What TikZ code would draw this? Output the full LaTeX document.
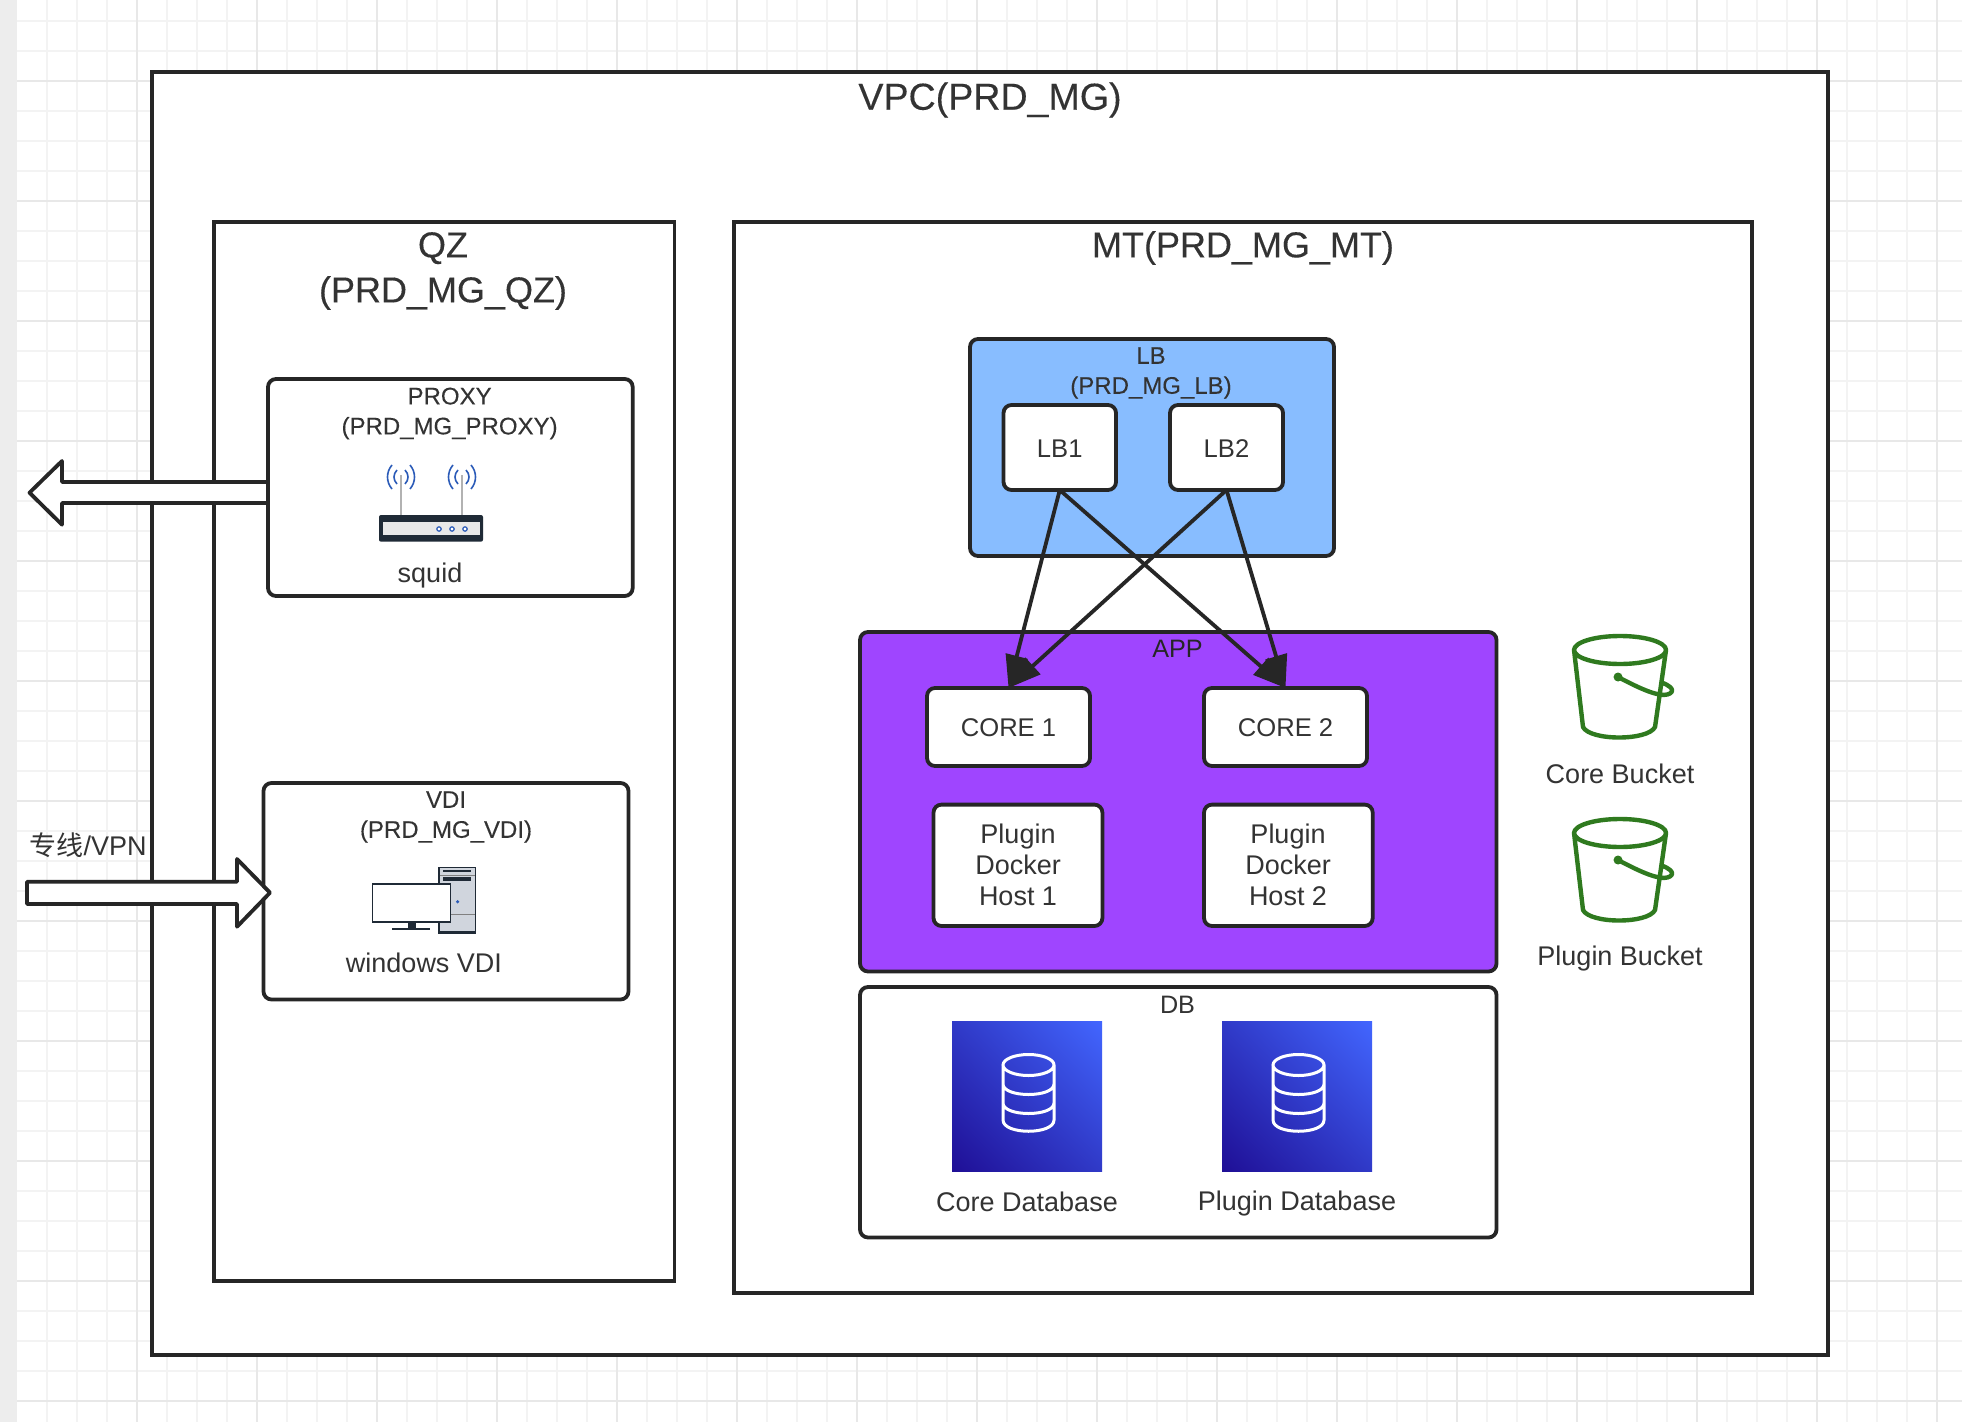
\documentclass[tikz,border=0pt]{standalone}
\usepackage{fontspec}
\setmainfont{Liberation Sans}
\newfontfamily\cjkfont{Noto Sans CJK SC}
\newfontfamily\bigface[FakeBold=0.25]{Liberation Sans}
\newfontfamily\smallface[FakeBold=0.12]{Liberation Sans}
\usetikzlibrary{arrows.meta,calc,shadings}
\definecolor{ink}{HTML}{262626}
\definecolor{txt}{HTML}{333333}
\definecolor{gridminor}{HTML}{F3F3F3}
\definecolor{gridmajor}{HTML}{E8E8E8}
\definecolor{lbblue}{HTML}{88BDFF}
\definecolor{apppurple}{HTML}{9F45FF}
\definecolor{bucketgreen}{HTML}{2F7A1F}
\definecolor{wavecol}{HTML}{2B5BB8}
\definecolor{steel}{HTML}{1F2A36}
\definecolor{tower}{HTML}{D0D5DD}
\definecolor{dblow}{HTML}{1F0F96}
\definecolor{dbhigh}{HTML}{4266FF}
\definecolor{dbmid}{HTML}{303AC8}
\tikzset{
  sq/.style={draw=ink,line width=1.9pt,fill=white,inner sep=0,outer sep=0,rectangle},
  rd/.style={sq,rounded corners=4pt},
  lbl/.style={text=txt,inner sep=0,align=center,font=\fontsize{13.5}{15.5}\selectfont},
  capl/.style={text=txt,inner sep=0,align=center,font=\fontsize{12.8}{15.5}\selectfont},
  small/.style={text=txt,inner sep=0,align=center,font=\smallface\fontsize{12}{15}\selectfont},
  big/.style={text=txt,inner sep=0,align=center,font=\bigface\fontsize{18}{22.5}\selectfont},
  link/.style={draw=ink,line width=1.9pt,-{Triangle[length=16.5pt,width=11pt]}},
  fat/.style={draw=ink,line width=1.9pt,fill=white,line join=round},
  pics/bucket/.style={code={
    \draw[bucketgreen,line width=2.2pt,line join=round,line cap=round]
      (0,0) ellipse [x radius=46,y radius=14]
      (-46,0) -- (-37,77) .. controls (-30,91) and (28,91) .. (35,77) -- (46,0)
      (-2,27) .. controls (15,36) and (28,42) .. (37,44) .. controls (48,47) and (56,42) .. (50,37) .. controls (48,35) and (45,34) .. (43,33);
    \fill[bucketgreen] (-2,27) circle [radius=4.5];
  }},
  pics/dbicon/.style={code={
    \shade[lower left=dblow,upper right=dbhigh,upper left=dbmid,lower right=dbmid]
      (0,0) rectangle (150,150);
    \draw[white,line width=1.5pt]
      (76.5,44) ellipse [x radius=25.5,y radius=10.5]
      (51,44) -- (51,99) .. controls (51,114) and (102,114) .. (102,99) -- (102,44)
      (51,63) .. controls (51,77) and (102,77) .. (102,63)
      (51,82) .. controls (51,96) and (102,96) .. (102,82);
  }},
}
\newcommand\bx[6]{\node[#1,minimum width={(#5-#3)*0.5pt},minimum height={(#6-#4)*0.5pt}] (#2) at ({(#3+#5)/2},{(#4+#6)/2}) {};}
\newcommand\wavepair[1]{%
  \draw[wavecol,line width=0.8pt] (#1-9,465) .. controls (#1-15,472) and (#1-15,482) .. (#1-9,489)
    (#1+9,465) .. controls (#1+15,472) and (#1+15,482) .. (#1+9,489)
    (#1-4,470) .. controls (#1-8,474) and (#1-8,480) .. (#1-4,484)
    (#1+4,470) .. controls (#1+8,474) and (#1+8,480) .. (#1+4,484);
  \draw[gray!60,line width=0.8pt] (#1,475) -- (#1,515);}
\begin{document}
\begin{tikzpicture}[x=0.5pt,y=-0.5pt]
\useasboundingbox (0,0) rectangle (1962,1422);
\clip (0,0) rectangle (1962,1422);
% canvas grid
\fill[white] (0,0) rectangle (1962,1422);
\foreach \gx in {47,77,107,167,197,227,287,317,347,407,437,467,527,557,587,647,677,707,767,797,827,887,917,947,1007,1037,1067,1127,1157,1187,1247,1277,1307,1367,1397,1427,1487,1517,1547,1607,1637,1667,1727,1757,1787,1847,1877,1907}
  \draw[gridminor,line width=1pt] (\gx,0) -- (\gx,1422);
\foreach \gy in {21,51,111,141,171,231,261,291,351,381,411,471,501,531,591,621,651,711,741,771,831,861,891,951,981,1011,1071,1101,1131,1191,1221,1251,1311,1341,1371}
  \draw[gridminor,line width=1pt] (0,\gy) -- (1962,\gy);
\foreach \gx in {137,257,377,497,617,737,857,977,1097,1217,1337,1457,1577,1697,1817,1937}
  \draw[gridmajor,line width=1pt] (\gx,0) -- (\gx,1422);
\foreach \gy in {81,201,321,441,561,681,801,921,1041,1161,1281,1401}
  \draw[gridmajor,line width=1pt] (0,\gy) -- (1962,\gy);
\fill[gray!14] (0,0) rectangle (17,1422);
% containers
\bx{sq}{vpc}{152}{72}{1828}{1355}
\bx{sq}{qz}{214}{222}{674.5}{1281}
\bx{sq}{mt}{734}{222}{1752}{1293}
\node[big,font=\bigface\fontsize{18.8}{22.5}\selectfont] (vpct) at (990,100) {VPC(PRD\_MG)};
\node[big] (qzt) at (443,271) {QZ\\(PRD\_MG\_QZ)};
\node[big] (mtt) at (1243,248) {MT(PRD\_MG\_MT)};
% left arrow under proxy box
\coordinate (outtip) at (29.5,492.7);
\bx{rd}{proxy}{268}{379}{632.7}{596}
\draw[fat] (outtip) -- (62,461) -- (62,482) -- (proxy.west |- 0,482) -- (proxy.west |- 0,503) -- (62,503) -- (62,524.7) -- cycle;
\draw[ink,line width=1.9pt] (proxy.west |- 0,470) -- (proxy.west |- 0,515);
\node[small] (proxyt) at (449.6,413.5) {PROXY\\(PRD\_MG\_PROXY)};
\wavepair{401}
\wavepair{462}
\fill[steel,rounded corners=1pt] (379,515) rectangle (483,541.7);
\fill[gray!18] (383,522) rectangle (480,535);
\foreach \dx in {439,452,465}
  \draw[wavecol,line width=0.6pt,fill=white] (\dx,529) circle [radius=2.2];
\node[lbl] (squid) at (430,575.5) {squid};
% VDI
\bx{rd}{vdi}{263.5}{783}{628.5}{999.5}
\node[small] (vdit) at (446,817) {VDI\\(PRD\_MG\_VDI)};
\coordinate (intail) at (27,881.7);
\draw[fat] (intail) -- (237,881.7) -- (237,859) -- (270,892.7) -- (237,926.7) -- (237,904) -- (27,904) -- cycle;
\node[lbl,anchor=south east,inner sep=0] (vpn) at (147,858.5) {{\cjkfont 专线}/VPN};
% PC
\fill[steel] (438,866.7) rectangle (476,934);
\fill[tower] (439.5,868) rectangle (474.5,931);
\draw[steel,line width=1pt] (443,870.7) -- (471,870.7);
\draw[gray,line width=0.5pt] (439.5,875) -- (474.5,875) (439.5,914.3) -- (474.5,914.3);
\fill[steel] (443,877) rectangle (471,881);
\fill[wavecol] (457.6,901.7) circle [radius=1.8];
\fill[steel] (407.5,921) rectangle (416,928);
\fill[steel] (392,927.5) rectangle (430,930);
\draw[steel,line width=0.8pt,fill=white] (372.6,884) rectangle (450.5,921.7);
\node[lbl] (winvdi) at (424,963.2) {windows VDI};
% LB
\bx{rd,fill=lbblue}{lb}{970}{339}{1334}{556}
\node[small] (lbt) at (1151,373) {LB\\(PRD\_MG\_LB)};
\bx{rd}{lba}{1003.5}{405}{1116}{490}
\bx{rd}{lbb}{1170}{405}{1283}{490}
\node[capl,yshift=-0.5pt] (lbat) at (lba) {LB1};
\node[capl,yshift=-0.5pt] (lbbt) at (lbb) {LB2};
% APP
\bx{rd,fill=apppurple}{app}{860}{632}{1496.5}{971.5}
\node[small,text=ink,font=\fontsize{12.6}{15}\selectfont] (appt) at (1177.5,649) {APP};
\bx{rd}{corea}{927}{688}{1090}{766}
\bx{rd}{coreb}{1204}{688}{1367}{766}
\node[capl,yshift=-0.5pt] (coreat) at (corea) {CORE 1};
\node[capl,yshift=-0.5pt] (corebt) at (coreb) {CORE 2};
\bx{rd}{pluga}{933.5}{804.6}{1102.4}{926}
\bx{rd}{plugb}{1204}{804.6}{1372.7}{926}
\node[lbl] (plugat) at (1018,865) {Plugin\\Docker\\Host 1};
\node[lbl] (plugbt) at (1288,865) {Plugin\\Docker\\Host 2};
% connectors
\draw[link] (lba.south) -- (corea.north);
\draw[link] (lbb.south) -- (corea.north);
\draw[link] (lba.south) -- (coreb.north);
\draw[link] (lbb.south) -- (coreb.north);
% DB
\bx{rd}{db}{860}{987}{1496.5}{1237.5}
\node[small,font=\fontsize{12.6}{15}\selectfont] (dbt) at (1177.5,1004.5) {DB};
\pic (dbicona) at (952,1021) {dbicon};
\pic (dbiconb) at (1222,1021) {dbicon};
\node[lbl] (coredb) at (1027,1202) {Core Database};
\node[lbl] (plugdb) at (1297,1204) {Plugin Database};
% buckets
\pic (bucketa) at (1620,650) {bucket};
\pic (bucketb) at (1620,833) {bucket};
\node[lbl] (corebk) at (1620,774) {Core Bucket};
\node[lbl] (plugbk) at (1620,958.5) {Plugin Bucket};
\end{tikzpicture}
\end{document}
